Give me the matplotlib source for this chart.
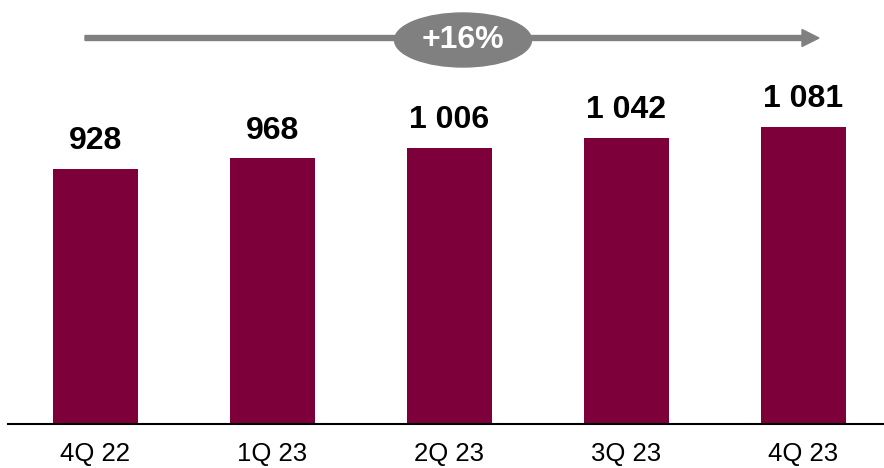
import matplotlib.pyplot as plt
from matplotlib.patches import Ellipse, FancyArrow

quarters = ["4Q 22", "1Q 23", "2Q 23", "3Q 23", "4Q 23"]
values = [928, 968, 1006, 1042, 1081]
labels = ["928", "968", "1 006", "1 042", "1 081"]
growth = "+16%"

bar_color = "#7D003A"
grey = "#808080"

plt.rcParams["font.family"] = ["Liberation Sans", "DejaVu Sans"]

fig = plt.figure(figsize=(8.84, 4.68), dpi=100)
ax = fig.add_axes([8 / 884, 44 / 468, 876 / 884, 424 / 468])

x = range(len(values))
bars = ax.bar(x, values, width=0.48, color=bar_color)

for b, lab in zip(bars, labels):
    ax.annotate(lab, (b.get_x() + b.get_width() / 2, b.get_height()),
                xytext=(0, 9), textcoords="offset points",
                ha="center", va="bottom", fontsize=23, fontweight="bold")

ax.set_xlim(-0.494, 4.455)
ax.set_ylim(0, 1543)
ax.set_xticks(list(x))
ax.set_xticklabels(quarters, fontsize=18.5)
ax.tick_params(axis="x", length=0, pad=13)
ax.set_yticks([])
for s in ["top", "right", "left"]:
    ax.spines[s].set_visible(False)
ax.spines["bottom"].set_linewidth(1.5)

# growth arrow across the top
W, H = 884, 468
fig.add_artist(FancyArrow(85 / W, 1 - 38 / H, (802 - 85) / W, 0,
                          width=5 / H, head_width=17 / H, head_length=17 / W,
                          length_includes_head=False, color=grey,
                          transform=fig.transFigure))
fig.add_artist(Ellipse((463 / W, 1 - 40 / H), 137 / W, 54 / H,
                       color=grey, transform=fig.transFigure))
fig.text(463 / W, 1 - 40 / H, growth, ha="center", va="center",
         fontsize=23, fontweight="bold", color="white")

fig.savefig("out.png", dpi=100)
